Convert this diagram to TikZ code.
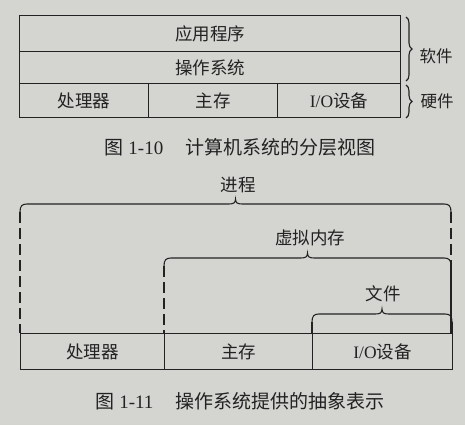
\documentclass[tikz,border=0pt]{standalone}
\usepackage{fontspec}
\setmainfont{Liberation Serif}
\newfontfamily\cjk{Noto Sans CJK SC}
\usetikzlibrary{decorations.pathreplacing}
\definecolor{bg}{RGB}{212,212,209}
\definecolor{ink}{RGB}{34,34,34}
\tikzset{
  ln/.style={draw=ink, line width=1.1pt},
  cell/.style={ln, rectangle, anchor=north west, inner sep=0pt, text=ink,
     font=\fontsize{17.5}{17.5}\selectfont\cjk},
  lab/.style={text=ink, inner sep=0pt, font=\fontsize{17.5}{17.5}\selectfont\cjk},
  sidelab/.style={text=ink, inner sep=0pt, font=\fontsize{16.5}{16.5}\selectfont\cjk},
  captext/.style={text=ink, inner sep=0pt, font=\fontsize{19}{19}\selectfont},
  dashline/.style={draw=ink, line width=1.1pt, dash pattern=on 11pt off 5pt},
  vbrace/.style={ln, decorate, decoration={brace, amplitude=6pt}},
}
\newcommand\hbrace[5]{%
  \coordinate (#5L) at (#1,#3+8);
  \coordinate (#5R) at (#2,#3+8);
  \draw[ln] (#5L) .. controls (#1,#3+2) and (#1+2,#3) .. (#1+7,#3)
    -- ({(#1+#2)/2-7},#3) .. controls ({(#1+#2)/2-2},#3) and ({(#1+#2)/2},#3-1) .. ({(#1+#2)/2},#3-5)
    .. controls ({(#1+#2)/2},#3-1) and ({(#1+#2)/2+2},#3) .. ({(#1+#2)/2+7},#3)
    -- (#2-7,#3) .. controls (#2-2,#3) and (#2,#3+2) .. (#5R);
  \draw[dashline] (#5L) -- (#5L |- #4.north);
  \draw[dashline] (#5R) -- (#5R |- #4.north);
}
\begin{document}
\begin{tikzpicture}[x=1pt, y=-1pt]
\fill[bg] (0,0) rectangle (465,425);
\useasboundingbox (0,0) rectangle (465,425);
% Figure 1-10
\node[cell, minimum width=381pt, minimum height=36pt] (app) at (19,15) {应用程序};
\node[cell, minimum width=381pt, minimum height=32pt] (os) at (19,51) {操作系统};
\node[cell, minimum width=129pt, minimum height=34pt] (cpu1) at (19,83) {处理器};
\node[cell, minimum width=129pt, minimum height=34pt] (mem1) at (148,83) {主存};
\node[cell, minimum width=123pt, minimum height=34pt] (io1) at (277,83) {{\rmfamily I/O}设备};
\draw[vbrace] (406,17) coordinate (swT) -- (406,81) coordinate (swB);
\node[sidelab] (sw) at (436,56) {软件};
\draw[vbrace] (406,85) coordinate (hwT) -- (406,118) coordinate (hwB);
\node[sidelab] (hw) at (437,101) {硬件};
\node[captext] (cap1) at (240,147) {{\cjk 图} 1-10\hspace{22pt}{\cjk 计算机系统的分层视图}};
% Figure 1-11
\node[cell, minimum width=144pt, minimum height=36pt] (cpu2) at (20,333) {处理器};
\node[cell, minimum width=148pt, minimum height=36pt] (mem2) at (164,333) {主存};
\node[cell, minimum width=140pt, minimum height=36pt] (io2) at (312,333) {{\rmfamily I/O}设备};
\hbrace{20}{451}{204}{cpu2}{proc}
\node[lab] (proclab) at (238,185) {进程};
\hbrace{164}{451}{258}{mem2}{vm}
\node[lab] (vmlab) at (310,238) {虚拟内存};
\hbrace{312}{452}{314}{io2}{file}
\node[lab] (filelab) at (383,294) {文件};
\node[captext] (cap2) at (240,401) {{\cjk 图} 1-11\hspace{22pt}{\cjk 操作系统提供的抽象表示}};
\end{tikzpicture}
\end{document}
